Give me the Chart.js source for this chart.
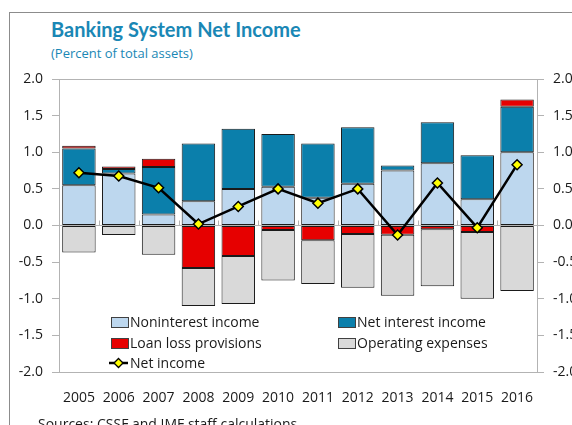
<!DOCTYPE html>
<html>
<head>
<meta charset="utf-8">
<script src="https://cdn.jsdelivr.net/npm/chart.js@4.4.0/dist/chart.umd.min.js"></script>
<style>
  html, body { margin: 0; padding: 0; background: #fff; }
  body { width: 572px; height: 425px; position: relative; overflow: hidden; font-family: "Open Sans", sans-serif; }
  #frame { position: absolute; left: 9px; top: 12px; width: 700px; height: 600px; border: 1px solid #8c8c8c; box-sizing: border-box; }
  #title { position: absolute; left: 51px; top: 17px; font-family: Lato, sans-serif; font-size: 20px; line-height: 24px; font-weight: bold; color: #1a87b5; white-space: nowrap; }
  #subtitle { position: absolute; left: 51px; top: 44px; font-size: 13px; line-height: 18px; color: #1a87b5; white-space: nowrap; }
  #source { position: absolute; left: 38px; top: 415px; font-size: 14px; line-height: 18px; color: #1a1a1a; white-space: nowrap; }
  #wrap { position: absolute; left: 0; top: 0; width: 572px; height: 425px; }
  .leg { position: absolute; font-size: 14px; line-height: 20px; color: #1a1a1a; white-space: nowrap; }
  .leg .box { position: absolute; left: 0; top: 5px; width: 16px; height: 9px; border: 1px solid #404040; }
  .leg span.txt { position: absolute; left: 19px; top: 0; }
</style>
</head>
<body>
<div id="frame"></div>
<div id="title">Banking System Net Income</div>
<div id="subtitle">(Percent of total assets)</div>
<div id="wrap"><canvas id="chart" width="572" height="425"></canvas></div>
<div id="legend"></div>
<div id="source">Sources: CSSF and IMF staff calculations.</div>
<script>
const years = ['2005','2006','2007','2008','2009','2010','2011','2012','2013','2014','2015','2016'];
const nonInterestIncome = [0.55, 0.71, 0.15, 0.33, 0.50, 0.53, 0.38, 0.57, 0.75, 0.85, 0.36, 1.00];
const netInterestIncome = [0.50, 0.06, 0.65, 0.79, 0.82, 0.72, 0.74, 0.77, 0.07, 0.56, 0.60, 0.62];
const loanLossProvisions = [0.04, 0.035, 0.11, -0.58, -0.415, -0.06, -0.20, -0.115, -0.125, -0.05, -0.09, 0.10];
const operatingExpenses = [-0.37, -0.13, -0.40, -0.52, -0.655, -0.69, -0.60, -0.735, -0.835, -0.78, -0.91, -0.895];
const netIncome = [0.72, 0.675, 0.515, 0.02, 0.26, 0.50, 0.305, 0.50, -0.13, 0.58, -0.03, 0.83];

const colLight = '#bdd7ee', colDark = '#0b7fab', colRed = '#e60000', colGray = '#d9d9d9';
const axisGray = '#b3b3b3';

// small tick marks on the zero line between categories
const zeroTicks = {
    id: 'zeroTicks',
    beforeDatasetsDraw(chart) {
        const x = chart.scales.x, y = chart.scales.y;
        const y0 = y.getPixelForValue(0);
        const step = (x.right - x.left) / years.length;
        const c = chart.ctx;
        c.save();
        c.strokeStyle = axisGray; c.lineWidth = 1;
        for (let i = 1; i < years.length; i++) {
            const px = Math.round(x.left + i * step) + 0.5;
            c.beginPath(); c.moveTo(px, y0 - 5); c.lineTo(px, y0); c.stroke();
        }
        c.restore();
    }
};

const barBase = { type: 'bar', borderColor: '#1a1a1a', borderWidth: 1, borderSkipped: false, stack: 'bars', order: 1,
    barPercentage: 0.84, categoryPercentage: 1.0 };

const gridFn = (c) => (c.tick && (c.tick.value === 0 || c.tick.value === 2)) ? axisGray : 'rgba(0,0,0,0)';

new Chart(document.getElementById('chart').getContext('2d'), {
    data: {
        labels: years,
        datasets: [
            { type: 'line', label: 'Net income', data: netIncome, stack: 'line', order: 0,
              borderColor: '#000', borderWidth: 2.5, tension: 0,
              pointStyle: 'rectRot', pointRadius: 5, pointBackgroundColor: '#ffff00', pointBorderColor: '#000', pointBorderWidth: 1.5 },
            { ...barBase, label: 'Noninterest income', data: nonInterestIncome, backgroundColor: colLight },
            { ...barBase, label: 'Net interest income', data: netInterestIncome, backgroundColor: colDark },
            { ...barBase, label: 'Loan loss provisions', data: loanLossProvisions, backgroundColor: colRed },
            { ...barBase, label: 'Operating expenses', data: operatingExpenses, backgroundColor: colGray }
        ]
    },
    options: {
        responsive: false, animation: false, devicePixelRatio: 1,
        layout: { padding: { top: 79, bottom: 23, left: 0, right: 0 } },
        plugins: { legend: { display: false }, tooltip: { enabled: false } },
        scales: {
            x: {
                stacked: true,
                grid: { display: false },
                border: { display: true, color: axisGray },
                ticks: { color: '#1a1a1a', font: { family: 'Open Sans', size: 14 }, padding: 10, maxRotation: 0 },
                afterFit: (s) => { s.height = 30; }
            },
            y: {
                stacked: true, position: 'left', min: -2, max: 2,
                grid: { color: gridFn, tickColor: axisGray, tickLength: 7 },
                border: { display: true, color: axisGray },
                ticks: { stepSize: 0.5, color: '#1a1a1a', font: { family: 'Open Sans', size: 14 }, padding: 9,
                         callback: (v) => v.toFixed(1) },
                afterFit: (s) => { s.width = 59; }
            },
            y2: {
                position: 'right', min: -2, max: 2,
                grid: { drawOnChartArea: false, tickColor: axisGray, tickLength: 7 },
                border: { display: true, color: axisGray },
                ticks: { stepSize: 0.5, color: '#1a1a1a', font: { family: 'Open Sans', size: 14 }, padding: 9,
                         callback: (v) => v.toFixed(1) },
                afterFit: (s) => { s.width = 35; }
            }
        }
    },
    plugins: [zeroTicks]
});

// legend, laid out in two columns like the original
const legendItems = [
    { text: 'Noninterest income', color: colLight, x: 111, y: 312 },
    { text: 'Net interest income', color: colDark, x: 338, y: 312 },
    { text: 'Loan loss provisions', color: colRed, x: 111, y: 333 },
    { text: 'Operating expenses', color: colGray, x: 338, y: 333 },
    { text: 'Net income', line: true, x: 111, y: 353 }
];
const legendEl = document.getElementById('legend');
legendItems.forEach(it => {
    const d = document.createElement('div');
    d.className = 'leg';
    d.style.left = it.x + 'px';
    d.style.top = it.y + 'px';
    if (it.line) {
        d.innerHTML = '<svg width="19" height="20" style="position:absolute;left:-2px;top:0">' +
            '<line x1="0" y1="10" x2="19" y2="10" stroke="#000" stroke-width="2.5"/>' +
            '<polygon points="9.5,5.5 14,10 9.5,14.5 5,10" fill="#ffff00" stroke="#000" stroke-width="1.3"/></svg>' +
            '<span class="txt">' + it.text + '</span>';
    } else {
        d.innerHTML = '<div class="box" style="background:' + it.color + '"></div><span class="txt">' + it.text + '</span>';
    }
    legendEl.appendChild(d);
});
</script>
</body>
</html>
